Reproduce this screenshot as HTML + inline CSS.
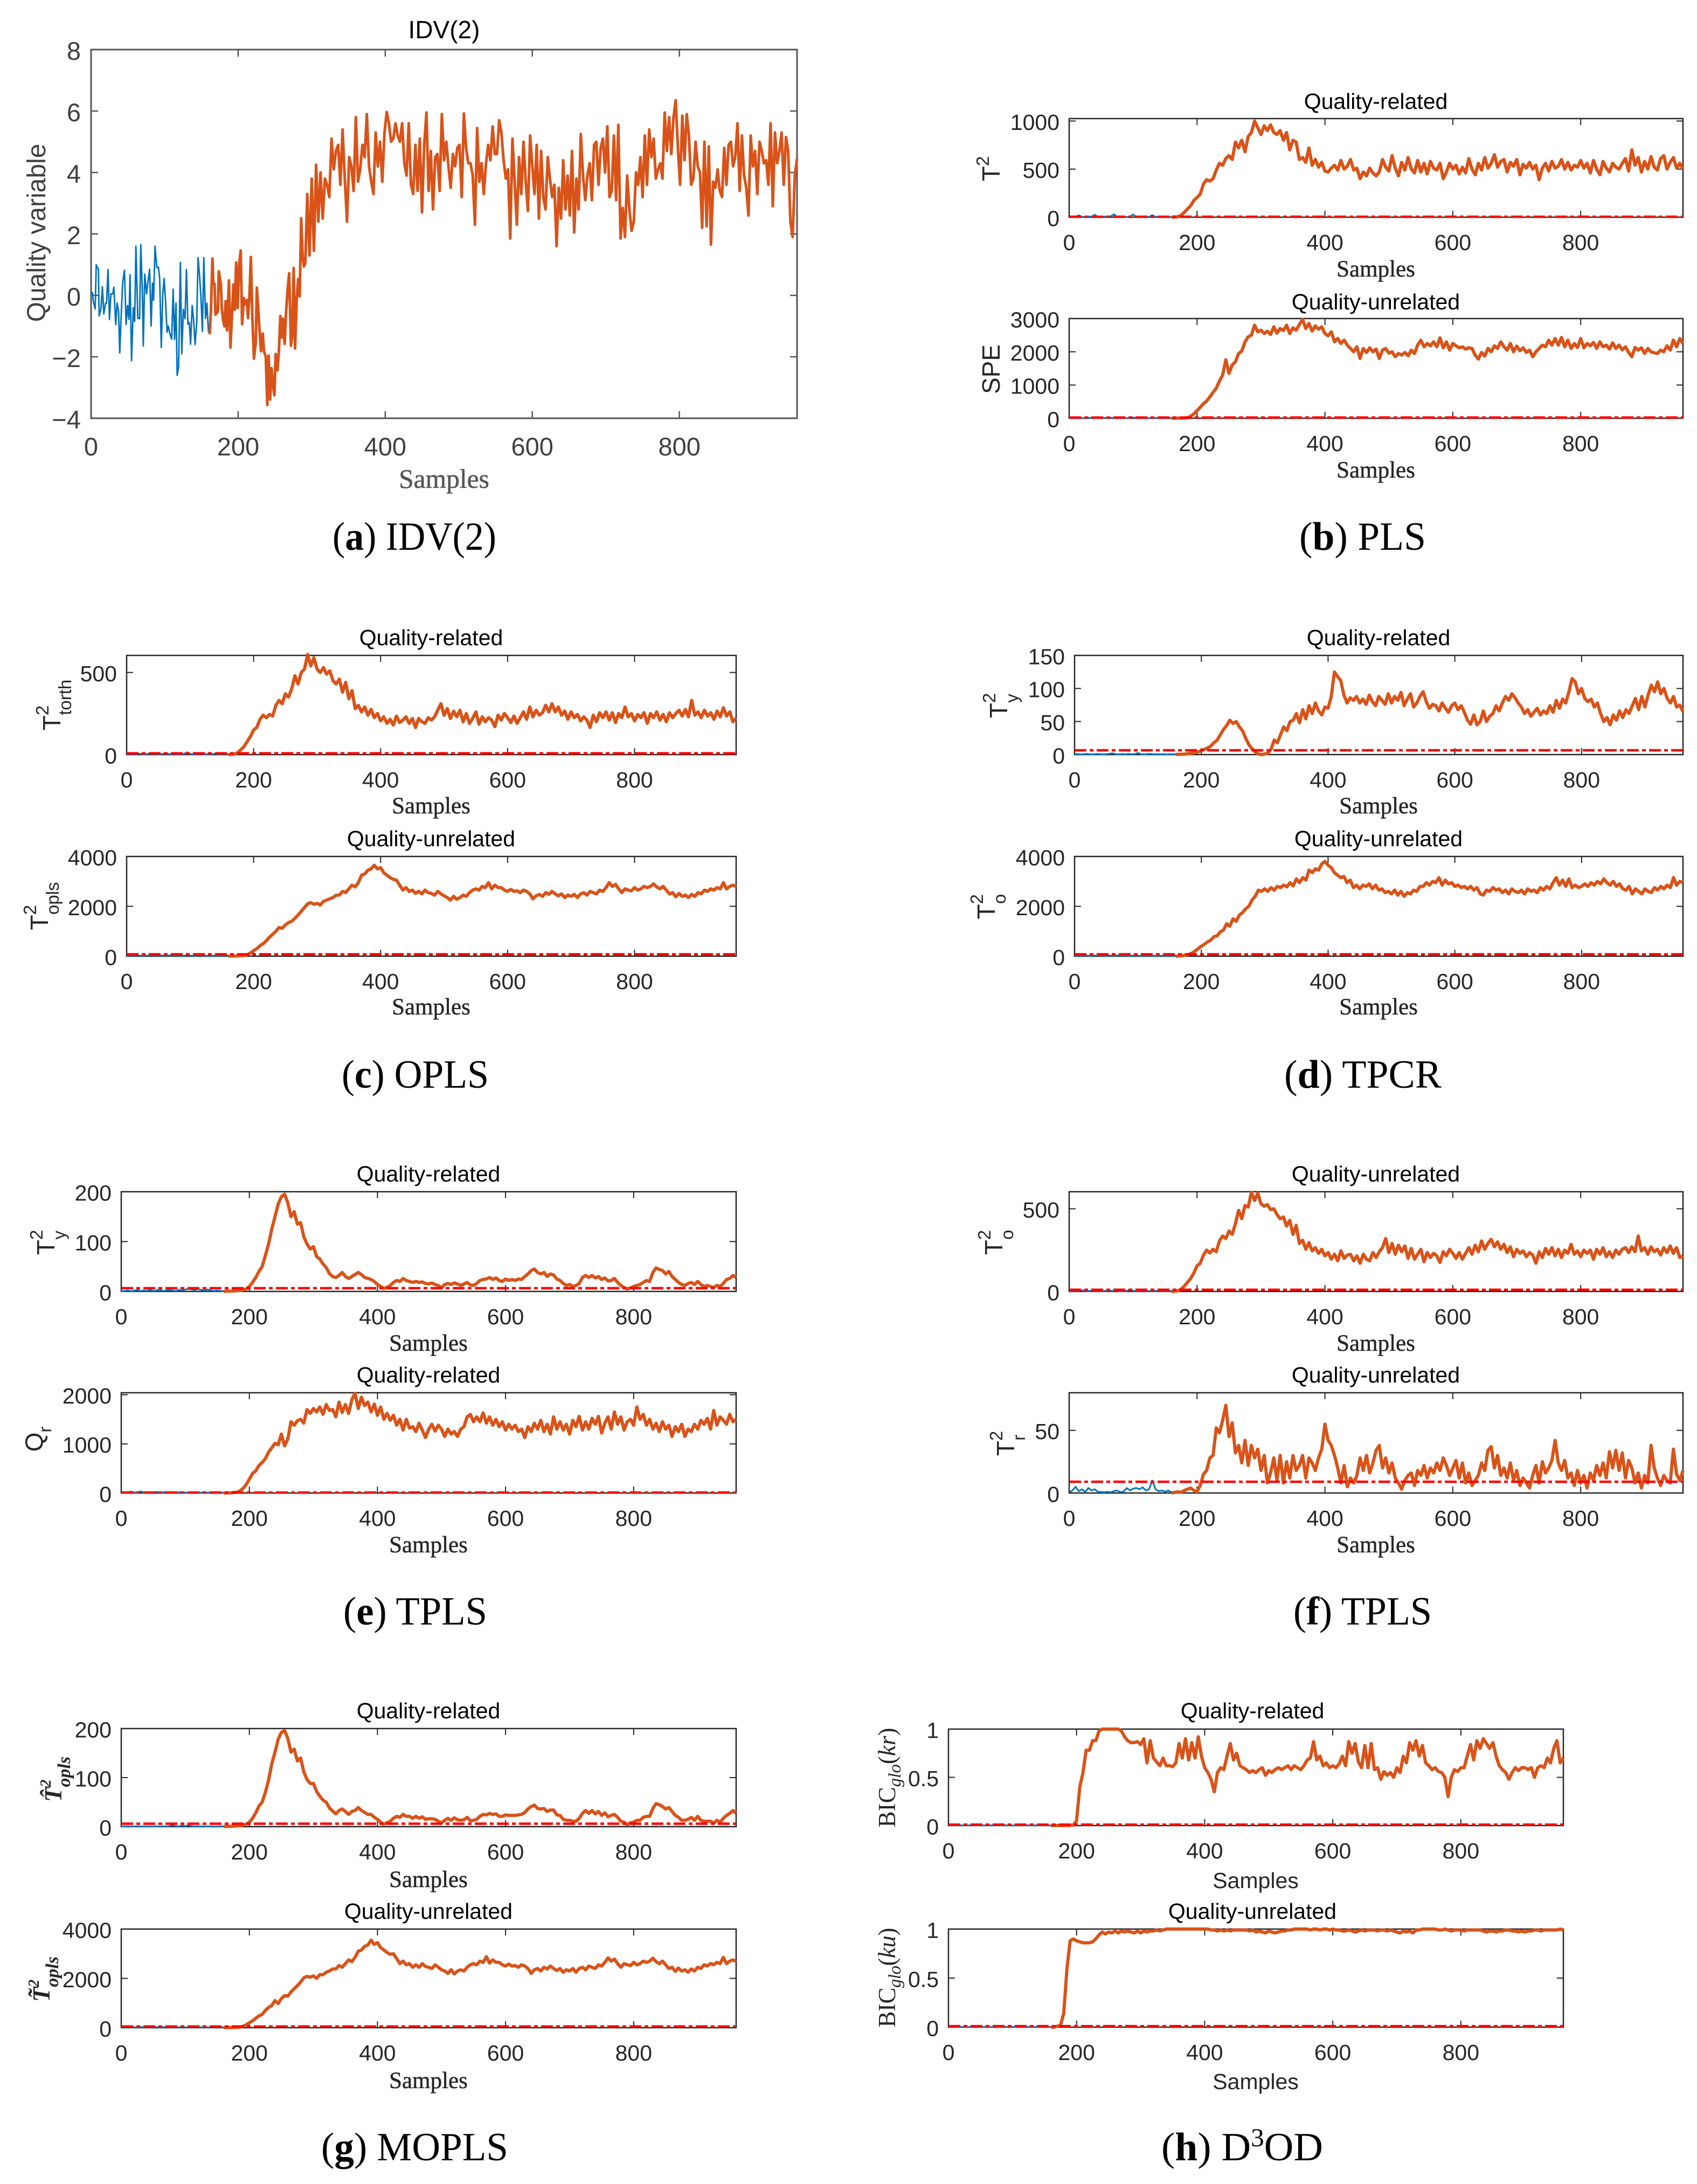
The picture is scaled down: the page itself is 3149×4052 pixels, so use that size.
<!DOCTYPE html>
<html lang="en">
<head>
<meta charset="utf-8">
<title>IDV(2) fault detection results</title>
<style>
html,body{margin:0;padding:0;background:#fff}
svg{display:block}
text{font-family:"Liberation Sans",sans-serif}
.title{font-size:41px;fill:#000;text-anchor:middle}
.samples{font-family:"Liberation Serif",serif;font-size:43px;fill:#262626;text-anchor:middle;stroke:#262626;stroke-width:.5px}
.samples-sans{font-size:41px;fill:#262626;text-anchor:middle}
.ylab{font-size:46px;fill:#262626;text-anchor:middle}
.ysub{font-size:33px}
.ymath{font-family:"Liberation Serif",serif;font-size:45px;fill:#262626;text-anchor:middle}
.cap{font-family:"Liberation Serif",serif;font-size:74px;fill:#000}
.cap tspan.b{font-weight:bold}
</style>
</head>
<body>
<svg id="figure" xmlns="http://www.w3.org/2000/svg" width="3149" height="4052" viewBox="0 0 3149 4052">
<rect width="3149" height="4052" fill="#fff"/>
<g id="plots"></g>

<text class="title" x="824" y="71" style="font-size:46px">IDV(2)</text>
<text class="samples" x="824" y="905" style="font-size:49.5px;fill:#555;stroke:#555">Samples</text>
<text class="ylab" transform="translate(84,432) rotate(-90)" style="font-size:48px;fill:#404040">Quality variable</text>

<text class="title" x="2553" y="202">Quality-related</text>
<text class="title" x="2553" y="574">Quality-unrelated</text>
<text class="samples" x="2553" y="513">Samples</text>
<text class="samples" x="2553" y="886">Samples</text>
<text class="ylab" transform="translate(1855,313) rotate(-90)">T<tspan class="ysub" dy="-20">2</tspan></text>
<text class="ylab" transform="translate(1855,685) rotate(-90)">SPE</text>

<text class="title" x="800" y="1197">Quality-related</text>
<text class="title" x="800" y="1570">Quality-unrelated</text>
<text class="samples" x="800" y="1509">Samples</text>
<text class="samples" x="800" y="1882">Samples</text>
<text class="ylab" transform="translate(112,1308) rotate(-90)">T<tspan class="ysub" dy="-22">2</tspan><tspan class="ysub" dx="-18" dy="42">torth</tspan></text>
<text class="ylab" transform="translate(89,1681) rotate(-90)">T<tspan class="ysub" dy="-22">2</tspan><tspan class="ysub" dx="-18" dy="42">opls</tspan></text>

<text class="title" x="2558" y="1197">Quality-related</text>
<text class="title" x="2558" y="1570">Quality-unrelated</text>
<text class="samples" x="2558" y="1509">Samples</text>
<text class="samples" x="2558" y="1882">Samples</text>
<text class="ylab" transform="translate(1869,1309) rotate(-90)">T<tspan class="ysub" dy="-22">2</tspan><tspan class="ysub" dx="-18" dy="42">y</tspan></text>
<text class="ylab" transform="translate(1846,1682) rotate(-90)">T<tspan class="ysub" dy="-22">2</tspan><tspan class="ysub" dx="-18" dy="42">o</tspan></text>

<text class="title" x="795" y="2192">Quality-related</text>
<text class="title" x="795" y="2565">Quality-related</text>
<text class="samples" x="795" y="2506">Samples</text>
<text class="samples" x="795" y="2880">Samples</text>
<text class="ylab" transform="translate(101,2305) rotate(-90)">T<tspan class="ysub" dy="-22">2</tspan><tspan class="ysub" dx="-18" dy="42">y</tspan></text>
<text class="ylab" transform="translate(79,2670) rotate(-90)">Q<tspan class="ysub" dy="16">r</tspan></text>

<text class="title" x="2553" y="2192">Quality-unrelated</text>
<text class="title" x="2553" y="2565">Quality-unrelated</text>
<text class="samples" x="2553" y="2506">Samples</text>
<text class="samples" x="2553" y="2880">Samples</text>
<text class="ylab" transform="translate(1860,2305) rotate(-90)">T<tspan class="ysub" dy="-22">2</tspan><tspan class="ysub" dx="-18" dy="42">o</tspan></text>
<text class="ylab" transform="translate(1882,2678) rotate(-90)">T<tspan class="ysub" dy="-22">2</tspan><tspan class="ysub" dx="-18" dy="42">r</tspan></text>

<text class="title" x="795" y="3188">Quality-related</text>
<text class="title" x="795" y="3560">Quality-unrelated</text>
<text class="samples" x="795" y="3501">Samples</text>
<text class="samples" x="795" y="3874">Samples</text>
<text class="ymath" transform="translate(114,3301) rotate(-90)" style="font-style:italic;font-weight:bold">T&#770;<tspan class="ysub" dy="-20" style="font-size:28px">2</tspan><tspan class="ysub" dx="-14" dy="36" style="font-size:34px">opls</tspan></text>
<text class="ymath" transform="translate(92,3672) rotate(-90)" style="font-style:italic;font-weight:bold">T&#771;<tspan class="ysub" dy="-20" style="font-size:28px">2</tspan><tspan class="ysub" dx="-14" dy="36" style="font-size:34px">opls</tspan></text>

<text class="title" x="2324" y="3188">Quality-related</text>
<text class="title" x="2324" y="3560">Quality-unrelated</text>
<text class="samples-sans" x="2330" y="3503">Samples</text>
<text class="samples-sans" x="2330" y="3876">Samples</text>
<text class="ymath" transform="translate(1661,3298) rotate(-90)" textLength="185">BIC<tspan class="ysub" dy="10" style="font-style:italic">glo</tspan><tspan dy="-10">(</tspan><tspan style="font-style:italic">kr</tspan>)</text>
<text class="ymath" transform="translate(1661,3669) rotate(-90)" textLength="185">BIC<tspan class="ysub" dy="10" style="font-style:italic">glo</tspan><tspan dy="-10">(</tspan><tspan style="font-style:italic">ku</tspan>)</text>

<text class="cap" x="617" y="1020" textLength="304" lengthAdjust="spacingAndGlyphs">(<tspan class="b">a</tspan>) IDV(2)</text>
<text class="cap" x="2411" y="1020" textLength="235" lengthAdjust="spacingAndGlyphs">(<tspan class="b">b</tspan>) PLS</text>
<text class="cap" x="634" y="2018" textLength="273" lengthAdjust="spacingAndGlyphs">(<tspan class="b">c</tspan>) OPLS</text>
<text class="cap" x="2383" y="2018" textLength="292" lengthAdjust="spacingAndGlyphs">(<tspan class="b">d</tspan>) TPCR</text>
<text class="cap" x="637" y="3014" textLength="267" lengthAdjust="spacingAndGlyphs">(<tspan class="b">e</tspan>) TPLS</text>
<text class="cap" x="2400" y="3014" textLength="257" lengthAdjust="spacingAndGlyphs">(<tspan class="b">f</tspan>) TPLS</text>
<text class="cap" x="596" y="4008" textLength="347" lengthAdjust="spacingAndGlyphs">(<tspan class="b">g</tspan>) MOPLS</text>
<text class="cap" x="2155" y="4008" textLength="300" lengthAdjust="spacingAndGlyphs">(<tspan class="b">h</tspan>) D<tspan dy="-26" style="font-size:48px">3</tspan><tspan dy="26">OD</tspan></text>
</svg>

<script>
/* ---------- shared axis data ---------- */
const xTickValues = [0, 200, 400, 600, 800];
const xMaxSample = 960;
const faultStart = 160;

/* ---------- panel (a) ---------- */
const aYTicks = [-4, -2, 0, 2, 4, 6, 8];
const aBlueSamples = [0,1,2,3,5.6,7,8.5,10,11,13.4,15.4,17.3,19.8,21,23,25,27,29.5,31,33.5,35.4,37.4,39,41,43,45.4,47.6,49.6,51.5,53,55,57.4,59.3,61,63.5,66,67.6,69.6,71,73,75.5,77.4,79.6,81.6,83.5,85,87,89.4,91.6,93.3,95.5,97.5,99.4,101.3,103.3,105,107,109.6,111.6,113.5,115.5,117,119,121.4,123.3,125.5,127.7,129.7,131.6,133.6,135.3,137.5,139.4,141.4,143.6,145.5,147.5,149.5,151.4,153.3,155.6,157.5,159.5];
const aBlueValues = [0,.09,.08,-.19,-.44,1,.9,.87,-.67,-.45,.28,-.6,-.25,-.25,.84,-.79,.05,.05,.27,-.95,-.25,-.5,-1.87,-.63,.43,.82,-.95,-.33,-.78,.67,-2.13,-.4,-.85,1.6,-.75,-.76,1.65,.23,-1.65,.69,.05,.44,.85,-1,.4,-.16,1.6,.9,.92,.54,-1.7,.03,.55,-.19,-1.2,-1,-1.23,-1.43,.2,-1.43,-.25,-2.6,-2.34,1.07,-1.9,-.46,-.76,.84,-.94,-.88,-1.59,-.33,-.79,-1.6,-.9,1.23,.66,-.12,-1.17,1.23,-.75,-.25,-1.17];
const aOrangeHeadSamples = [160,161.4,163,165,166.3,167.8,169.2,172.4,173.6,176.5,177.8,179.5,181.4,183,184.9,187.5,189.5,191.7,193.6,195.4,197.3,199.3,201,203.4,205.4,207.8,209.8,212,213.4,215.4,217.3,219.3,221.5,224,225.4,227.3,229,231,233.4,235.2,237.6,239.6,241.5,243.5,245.4,247.4,249.3,251,253.5,255.4,257.4,259,261,263.2,265.2,267.2,269.4,271.8,273.7,275.5,277.4,279.6,281.6,283.7,285.7,287.7,289.4,291.3];
const aOrangeHeadValues = [-1.17,-1.23,-.5,1.2,.38,.38,-.63,-.53,.78,.38,-.44,-.79,-1.01,-.19,-1.14,.49,-1.7,-.6,.35,-.47,1.07,-.41,.91,1.46,-.94,-.09,-.29,-.15,-.74,0,1.25,-.74,-2.06,-1.52,.25,-.44,-1.11,-1.82,-1.24,-1.82,-2,-3.57,-1.96,-3.39,-2.37,-2.95,-3.25,-1.91,-2.44,-1.81,-.67,-1.37,-.76,-1.58,-.53,.16,.72,-1.64,-1.29,.89,-1.73,-.15,.53,-.03,2.51,1.26,.94,1.05];
const aOrangeTailStart = 294;
const aOrangeTailStep = 3;
const aOrangeTailValues = [
3.3,1.3,3.8,1.45,4.25,2.4,4,2.5,3.8,3.6,
3.2,5.1,4.1,4.7,4.9,3.6,5.4,3.8,2.4,4.5,
4.2,3.4,5.8,3.7,4.1,4.9,4.5,5.9,4.2,3.7,
3.3,5.3,4.2,5,3.7,5.3,5.97,5.6,5,5.1,
5.6,5.2,5,5.6,4.3,3.9,5.6,3.6,3.3,4.9,
3.4,5.1,2.7,4.9,5.95,3.4,4.7,2.8,4.5,4.6,
3.4,5.9,4.4,5,4.2,3.5,4.6,4.2,4.8,4.9,
3.2,5.92,4.8,4.3,4.3,3.9,2.3,5.45,3.7,4.3,
3.3,4.3,4.9,4.4,5.5,4.6,4.6,5.7,5.3,4.4,
3.8,4.1,1.85,5.1,3.7,2.3,4.5,3.3,5,3.7,
2.75,5.2,4.2,3.3,4.9,2.5,4.7,3.2,2.8,4.5,
3.8,3.2,3.6,1.6,3.5,2.5,4.4,2.8,3.9,2.6,
4.7,2.05,3.8,2.8,5.25,3.9,3.1,3.9,4.3,3.1,
4.9,5,3.6,4.8,5.1,4,5.5,3.2,3.4,5.2,
3.1,5.55,1.85,2.85,1.9,3.9,2.8,2.1,2.4,4,
3.6,4.5,3.2,5.2,3.6,5.4,4.5,5.1,3.8,4.1,
4.3,3.8,5.95,4.7,5.8,4.6,5.8,6.35,4.8,3.6,
5.85,4.4,5.9,5.2,3.6,3.8,5,4.2,4,2.2,
5,2.25,4.85,1.65,3.7,3.5,4.1,3.4,3.2,4.8,
3.6,4.9,5,4.2,4.5,5.6,3.4,5.2,3.9,3.5,
2.6,5.2,4.2,4.7,3.3,5,4.7,4.3,4.4,3.6,
5.6,2.9,5.3,4.3,4.7,5.3,3.6,5.15,4.7,2.4,
1.9,3.9,4.45];

/* ---------- panel (b) ---------- */
const bTopYTicks = [0, 500, 1000];
const bTopBlue = [2,6,3,20,4,3,8,5,25,3,2,6,4,9,30,3,5,4,2,7,28,4,3,6,5,2,22,4,3,7,3,2,3];
const bTopOrange = [0,2,5,20,50,85,120,175,205,240,345,390,375,400,490,560,540,610,640,600,780,720,800,680,840,880,1000,930,860,950,900,960,880,860,900,800,880,700,800,780,600,620,570,720,540,600,520,570,480,470,510,540,490,590,500,530,600,490,510,400,470,430,510,460,430,470,600,520,480,640,510,430,570,490,620,500,460,590,470,560,450,580,510,490,560,400,470,560,500,540,450,520,460,610,500,440,560,490,620,510,560,650,520,580,600,470,570,530,600,440,550,510,570,500,540,390,510,560,480,580,510,530,600,500,570,490,540,520,590,510,560,460,590,500,440,580,510,470,560,520,500,560,610,480,700,540,620,470,580,500,630,520,490,610,640,500,570,620,510,560,500];
const bTopThreshold = [5];
const bBottomYTicks = [0, 1000, 2000, 3000];
const bBottomBlue = [6,12,4,18,5,3,14,6,9,4,3,12,5,16,6,4,10,3,5,14,26,4,6,3,12,4,5,3,9,4,3,6,4];
const bBottomOrange = [0,2,3,5,8,15,60,130,230,330,440,520,640,780,900,1120,1300,1760,1350,1600,1700,1950,2020,2300,2450,2500,2800,2600,2650,2550,2620,2520,2750,2560,2700,2640,2800,2550,2720,2650,2820,2970,2700,2850,2620,2780,2680,2750,2550,2480,2600,2300,2400,2250,2350,2200,2100,2000,2150,1800,2100,1980,2120,2000,2080,1800,2050,2100,1960,2000,1850,1950,1900,1980,1880,2050,1950,2200,2350,2150,2250,2180,2300,2150,2420,2120,2300,2050,2250,2180,2120,2150,2080,2120,2100,1900,1780,1980,1870,2100,2000,2180,2100,2300,2150,2050,2250,2000,2170,2030,2120,1980,2050,1850,2000,2100,2200,2150,2350,2200,2400,2200,2430,2150,2350,2100,2250,2130,2400,2120,2250,2180,2280,2100,2300,2150,2200,2080,2270,2100,2200,2060,2150,1980,1850,2130,2050,2120,1950,2100,2000,1970,1950,2050,2000,2180,2050,2350,2150,2400,2250];
const bBottomThreshold = [22];

/* ---------- panel (c) ---------- */
const cTopYTicks = [0, 500];
const cTopBlue = [3,5,2,4,6,3,2,5,3,4,2,3,6,4,3,5,2,4,3,14,4,2,3,5,3,2,4,3,6,2,3,4,2];
const cTopOrange = [0,1,3,12,30,50,80,110,150,165,215,240,225,245,235,300,330,310,370,350,400,480,430,500,520,610,540,590,520,500,530,490,510,450,430,460,380,440,340,390,280,300,260,290,240,275,225,250,205,230,190,215,180,235,195,210,230,190,220,165,220,200,190,225,210,230,270,310,240,280,220,265,230,270,200,250,190,220,260,185,230,200,225,210,170,240,210,250,225,195,235,190,225,260,215,290,230,270,240,255,300,260,310,260,290,240,265,215,260,225,245,205,230,210,165,240,200,255,225,260,210,255,195,250,225,290,230,250,205,245,225,255,190,250,225,260,210,245,200,255,225,250,270,235,275,230,330,240,260,225,270,235,255,215,265,230,285,235,260,200,220];
const cTopThreshold = [8];
const cBottomYTicks = [0, 2000, 4000];
const cBottomBlue = [20,35,18,42,25,16,30,22,40,18,24,30,15,28,35,20,26,18,22,32,24,16,28,20,34,18,22,16,26,20,18,24,20];
const cBottomOrange = [
0,3,6,10,15,25,60,130,220,300,
420,500,620,760,880,1000,1150,1120,1250,1350,
1400,1520,1650,1800,1950,2100,2150,2080,2120,2050,
2200,2250,2300,2350,2450,2450,2600,2550,2700,2850,
2780,2950,3250,3300,3450,3500,3650,3500,3550,3350,
3250,3150,3080,3050,2850,2650,2750,2600,2650,2520,
2600,2500,2650,2550,2520,2450,2600,2500,2420,2350,
2250,2400,2280,2350,2450,2400,2550,2650,2700,2650,
2800,2750,2950,2700,2850,2750,2750,2650,2600,2680,
2600,2620,2550,2650,2600,2500,2300,2420,2480,2400,
2550,2480,2600,2500,2420,2500,2350,2450,2400,2480,
2350,2500,2550,2450,2600,2550,2500,2650,2600,2750,
2950,2800,2880,2700,2550,2700,2650,2620,2750,2650,
2700,2800,2750,2800,2900,2780,2700,2800,2650,2500,
2550,2380,2520,2400,2450,2350,2480,2400,2550,2500,
2650,2600,2700,2650,2750,2700,2950,2700,2800,2850,
2800];
const cBottomThreshold = [75];

/* ---------- panel (d) ---------- */
const dTopYTicks = [0, 50, 100, 150];
const dTopBlue = [.5,.8,.3,.6,1,.4,.5,.9,.6,.4,.7,1.2,2,.6,.5,.8,.4,1,.5,.7,2.5,.6,.4,.8,1,.5,.6,.4,.7,.3,.6,.5,.4];
const dTopOrange = [
0,.5,.5,1,1.5,2,3,4,6,8,
10,13,18,22,30,38,44,52,47,50,
42,36,25,15,9,4,1,0,1,2,
8,22,18,30,42,36,50,52,62,48,
68,54,74,62,78,66,60,72,70,88,
125,118,112,90,78,86,82,88,78,84,
76,90,80,74,88,82,76,92,78,88,
82,94,74,84,92,72,78,88,95,80,
70,76,74,66,78,70,64,74,78,68,
74,64,52,46,60,45,50,66,50,58,
62,74,66,78,88,82,92,86,78,72,
62,68,58,64,70,60,66,62,74,64,
82,70,84,78,95,115,110,92,100,85,
80,84,72,78,62,50,56,45,60,52,
66,56,68,62,74,85,68,88,72,90,
105,95,110,92,100,85,78,88,72,75,
65];
const dTopThreshold = [6.5];
const dBottomYTicks = [0, 2000, 4000];
const dBottomBlue = [20,30,16,40,24,18,28,22,36,18,20,30,16,26,32,20,24,18,22,30,22,16,26,20,32,18,20,16,24,20,18,22,20];
const dBottomOrange = [
0,5,15,40,70,120,200,300,400,480,
580,640,780,820,980,1050,1300,1200,1500,1400,
1650,1750,1900,2000,2250,2400,2650,2600,2700,2600,
2750,2650,2800,2750,2850,2780,2950,2820,3100,2950,
3150,3050,3450,3350,3500,3450,3700,3800,3650,3550,
3350,3250,3150,3200,2950,3050,2750,2850,2700,2850,
2800,2900,2700,2850,2650,2700,2550,2600,2500,2650,
2450,2600,2400,2550,2500,2650,2600,2800,2800,2950,
2850,3000,2950,3150,2850,3050,2900,2950,2800,2850,
2750,2800,2700,2800,2650,2750,2500,2450,2650,2600,
2750,2650,2700,2550,2650,2500,2700,2600,2550,2650,
2500,2700,2600,2650,2550,2750,2650,2800,2700,2950,
3150,2850,3050,2800,3100,2750,2850,2750,2800,2900,
2800,2950,2850,3000,2900,3100,2950,2850,3000,2800,
2900,2700,2650,2800,2500,2700,2600,2500,2700,2600,
2550,2750,2650,2800,2700,2850,2750,3150,2850,3000,
2950];
const dBottomThreshold = [75];

/* ---------- panel (e) ---------- */
const eTopYTicks = [0, 100, 200];
const eTopBlue = [.5,1,2,.5,1.5,3,1,2,1,3,1,2,4,1,2,3,2,1,3,2,4,5,4,3,5,3,2,4,2,1,2,1,.5];
const eTopOrange = [
0,.5,.5,1,1.5,2,3,5,10,18,
28,40,50,72,95,125,150,175,190,195,
178,150,160,135,138,110,95,85,90,70,
65,55,48,36,30,28,32,38,30,26,
30,34,38,34,28,26,24,20,14,10,
6,8,12,18,22,20,26,22,20,18,
20,18,19,16,15,17,14,12,7,14,
16,14,17,15,12,15,18,13,12,16,
22,24,25,28,24,27,22,20,25,22,
24,22,25,24,30,35,42,45,38,35,
38,30,35,33,25,22,16,12,14,10,
12,16,28,32,28,32,27,30,24,27,
21,22,26,18,12,8,5,7,10,12,
14,18,22,20,38,47,44,42,35,40,
30,24,18,14,12,16,18,14,20,14,
10,12,10,8,12,10,16,24,26,32,
28];
const eTopThreshold = [6.5];
const eBottomYTicks = [0, 1000, 2000];
const eBottomBlue = [8,20,5,30,12,6,34,8,16,5,7,25,6,12,22,5,8,6,14,20,10,6,14,22,6,8,12,5,14,6,9,7,5];
const eBottomOrange = [
0,1,3,8,15,40,90,170,280,400,
450,560,620,700,830,920,1010,980,1200,960,
1100,1450,1380,1470,1500,1420,1700,1620,1720,1650,
1750,1600,1800,1680,1700,1550,1850,1640,1800,1620,
1900,2030,1720,1950,1780,1850,1650,1810,1580,1750,
1500,1620,1480,1580,1380,1500,1280,1500,1320,1350,
1250,1420,1280,1130,1300,1400,1260,1380,1300,1150,
1300,1200,1250,1150,1300,1350,1550,1600,1450,1550,
1450,1630,1420,1550,1380,1500,1350,1450,1280,1400,
1300,1380,1250,1300,1130,1350,1250,1420,1300,1480,
1250,1400,1200,1550,1300,1450,1280,1400,1200,1480,
1350,1560,1280,1450,1300,1520,1400,1560,1220,1420,
1550,1300,1650,1400,1550,1280,1450,1500,1380,1750,
1500,1600,1380,1500,1300,1420,1250,1450,1300,1380,
1150,1350,1250,1400,1150,1300,1250,1400,1300,1480,
1400,1520,1300,1680,1380,1550,1480,1400,1600,1450,
1500];
const eBottomThreshold = [10];

/* ---------- panel (f) ---------- */
const fTopYTicks = [0, 500];
const fTopBlue = [2,4,3,5,7,3,2,5,3,4,2,3,5,4,3,5,2,4,3,12,4,2,3,5,3,2,4,3,5,2,3,4,2];
const fTopOrange = [0,1,4,14,32,55,78,112,155,170,220,250,232,255,240,305,335,320,365,345,410,490,440,520,510,600,550,595,530,515,525,495,500,465,440,450,395,430,345,400,290,310,255,295,245,265,230,255,215,235,195,225,185,245,200,220,225,185,215,170,225,195,185,235,205,240,265,320,235,290,225,280,240,275,200,260,195,225,255,180,235,205,230,215,175,240,215,255,230,200,235,195,230,265,225,280,240,305,255,290,315,270,300,255,285,235,270,210,255,230,245,210,235,220,170,240,205,260,225,265,215,255,205,250,230,285,225,245,210,250,230,250,195,255,225,265,210,240,205,250,225,255,265,235,270,240,335,245,265,225,270,240,255,220,265,235,275,230,265,205,215];
const fTopThreshold = [10];
const fBottomYTicks = [0, 50];
const fBottomBlue = [.5,2,5,1.5,3,.8,4,2,3,1,.8,.6,1,.5,1.5,2,.8,1,4,2,3.5,4,3,4.5,2,3,10,3,1.5,2,1,2,.5];
const fBottomOrange = [
0,.5,1,.5,2,3,4,2,1,6,
15,18,28,30,52,48,58,70,45,56,
32,38,24,42,22,38,28,35,18,30,
8,16,28,10,30,8,25,12,30,18,
22,30,12,28,24,18,28,35,55,42,
38,30,20,8,22,5,12,8,14,28,
18,30,16,24,34,38,20,28,16,24,
12,8,3,10,14,16,6,18,14,22,
12,20,16,24,18,28,22,14,20,26,
12,24,8,16,6,10,14,24,18,34,
37,20,30,14,20,12,24,10,18,6,
12,8,4,14,22,8,25,16,20,26,
42,24,18,26,12,16,6,18,8,14,
4,16,10,22,14,24,12,33,20,34,
18,32,12,26,20,8,16,4,14,8,
38,20,12,6,14,10,8,35,15,10,
18];
const fBottomThreshold = [9];

/* ---------- panel (g) ---------- */
const gTopYTicks = [0, 100, 200];
const gTopBlue = [.5,.5,.8,.5,.6,.8,.5,.7,.5,.6,.5,.7,.6,.8,.5,1,3,1,.6,2,1,3,1,.6,.8,.5,.7,.5,.6,.5,.5,.6,.5];
const gTopOrange = [
0,.5,.5,1,1.5,2,3,5,9,17,
28,42,50,70,95,128,152,178,192,196,
180,152,158,134,140,112,96,88,88,72,
62,54,50,38,32,26,33,36,31,25,
31,33,39,33,29,25,25,19,15,9,
5,8,11,17,21,19,25,21,21,17,
21,17,20,15,16,16,15,11,8,13,
17,13,18,14,13,14,19,12,13,15,
21,25,24,27,25,26,21,21,24,23,
23,23,24,25,29,36,41,44,37,36,
37,31,34,34,24,23,15,13,13,11,
11,17,27,33,27,33,26,31,23,28,
20,23,25,19,11,9,4,8,9,13,
13,19,21,21,37,47,45,41,36,39,
31,23,19,13,13,15,19,13,21,13,
11,11,11,7,13,9,17,23,27,33,
27];
const gTopThreshold = [6];
const gBottomYTicks = [0, 2000, 4000];
const gBottomBlue = [20,28,16,36,22,16,26,20,30,16,20,26,14,24,28,18,22,16,20,28,20,14,24,18,28,16,20,14,22,18,16,20,18];
const gBottomOrange = [
0,3,5,8,12,20,55,120,200,280,
380,480,540,700,820,900,1100,980,1180,1300,
1280,1450,1580,1700,1850,2020,2080,2050,2100,2000,
2150,2150,2250,2300,2380,2380,2520,2450,2600,2750,
2680,2850,3100,3150,3300,3350,3550,3380,3450,3250,
3150,3050,2980,3000,2800,2600,2700,2550,2600,2450,
2550,2450,2600,2480,2450,2400,2550,2450,2350,2300,
2200,2350,2180,2300,2350,2300,2450,2550,2600,2550,
2700,2650,2880,2620,2750,2650,2650,2550,2500,2580,
2500,2520,2450,2550,2500,2400,2200,2350,2400,2300,
2450,2380,2500,2400,2320,2400,2250,2350,2300,2400,
2250,2400,2450,2350,2500,2450,2400,2550,2500,2650,
2830,2700,2780,2600,2450,2600,2550,2520,2650,2550,
2600,2700,2650,2700,2820,2680,2600,2700,2550,2400,
2450,2280,2420,2300,2350,2250,2380,2300,2450,2400,
2550,2500,2600,2550,2650,2600,2850,2600,2700,2750,
2700];
const gBottomThreshold = [50];

/* ---------- panel (h) ---------- */
const hTopYTicks = [0, 0.5, 1];
const hTopBlue = [.002,.003,.002,.004,.002,.003,.002,.004,.003,.002,.003,.002,.004,.003,.002,.003,.002,.004,.002,.003,.002,.003,.002,.004,.002,.003,.002,.003,.002,.002,.002,.002,.002];
const hTopOrange = [
0,0,0,0,0,0,.002,.005,.05,.4,
.55,.78,.78,.88,.88,.98,1,1,1,1,
1,1,.98,.92,.88,.86,.86,.87,.84,.9,
.65,.88,.7,.66,.62,.7,.62,.62,.61,.65,
.85,.7,.9,.68,.86,.7,.92,.72,.6,.55,
.48,.35,.55,.6,.58,.72,.85,.68,.75,.62,
.6,.58,.55,.57,.55,.58,.6,.52,.57,.55,
.58,.6,.58,.6,.62,.58,.62,.6,.58,.62,
.68,.7,.87,.68,.72,.62,.65,.6,.62,.6,
.64,.72,.62,.87,.75,.85,.66,.6,.83,.6,
.85,.58,.6,.48,.56,.52,.55,.5,.6,.55,
.72,.65,.86,.78,.88,.72,.83,.65,.62,.58,
.6,.56,.55,.5,.3,.5,.58,.56,.6,.6,
.72,.84,.68,.88,.8,.9,.85,.8,.86,.72,
.62,.58,.55,.48,.55,.6,.57,.6,.6,.58,
.6,.5,.6,.62,.6,.7,.65,.8,.88,.65,
.7];
const hTopThreshold = [.01];
const hBottomYTicks = [0, 0.5, 1];
const hBottomBlue = [.002,.003,.002,.003,.002,.003,.002,.002,.003,.002,.003,.002,.003,.002,.002,.003,.002,.003,.002,.002,.003,.002,.003,.002,.002,.003,.002,.003,.002,.002,.002,.002,.002];
const hBottomOrange = [
0,0,.01,.02,.14,.6,.88,.9,.88,.87,
.86,.86,.86,.87,.9,.94,.97,.95,.97,.96,
.98,.96,.98,.97,.98,.97,.96,.98,.96,.98,
.97,.98,.98,.99,.98,.99,1,1,1,1,
1,1,1,1,1,1,1,1,1,1,
.99,.99,.98,.99,.98,.99,.98,.99,.99,.99,
.99,.99,.98,.99,.97,.98,.97,.96,.98,.97,
.96,.97,.98,.98,.99,.99,1,1,1,1,
1,.99,1,1,.99,1,1,.99,1,.99,
.99,.98,.98,.99,.98,.97,.98,.99,.98,.99,
.99,.99,.98,.99,.99,.98,.99,.98,.97,.96,
.98,.97,.98,.96,.99,.99,1,1,1,1,
1,.99,.99,1,.99,.98,.99,.99,.99,.98,
.99,.99,.99,.99,.99,.98,.97,.98,.98,.97,
.98,.98,.99,.99,.98,.98,.97,.98,.97,.98,
.98,.99,.99,.98,.99,.99,.99,.99,.99,1,
.99];
const hBottomThreshold = [.01];

/* ---------- panel definitions: box geometry and references to the data arrays ---------- */
const panelList = [
 {id:'b-top',x0:1984,x1:3123,y0:220,y1:403,yMax:1025,ticks:bTopYTicks,blue:bTopBlue,orange:bTopOrange,limit:bTopThreshold},
 {id:'b-bottom',x0:1984,x1:3123,y0:591,y1:776,yMax:3000,ticks:bBottomYTicks,blue:bBottomBlue,orange:bBottomOrange,limit:bBottomThreshold},
 {id:'c-top',x0:235,x1:1366,y0:1216,y1:1400,yMax:604,ticks:cTopYTicks,blue:cTopBlue,orange:cTopOrange,limit:cTopThreshold},
 {id:'c-bottom',x0:235,x1:1366,y0:1589,y1:1774,yMax:4000,ticks:cBottomYTicks,blue:cBottomBlue,orange:cBottomOrange,limit:cBottomThreshold},
 {id:'d-top',x0:1994,x1:3123,y0:1216,y1:1400,yMax:150,ticks:dTopYTicks,blue:dTopBlue,orange:dTopOrange,limit:dTopThreshold},
 {id:'d-bottom',x0:1994,x1:3123,y0:1589,y1:1774,yMax:4000,ticks:dBottomYTicks,blue:dBottomBlue,orange:dBottomOrange,limit:dBottomThreshold},
 {id:'e-top',x0:225,x1:1366,y0:2211,y1:2396,yMax:200,ticks:eTopYTicks,blue:eTopBlue,orange:eTopOrange,limit:eTopThreshold},
 {id:'e-bottom',x0:225,x1:1366,y0:2584,y1:2770,yMax:2040,ticks:eBottomYTicks,blue:eBottomBlue,orange:eBottomOrange,limit:eBottomThreshold},
 {id:'f-top',x0:1984,x1:3123,y0:2211,y1:2396,yMax:603,ticks:fTopYTicks,blue:fTopBlue,orange:fTopOrange,limit:fTopThreshold},
 {id:'f-bottom',x0:1984,x1:3123,y0:2584,y1:2770,yMax:80,ticks:fBottomYTicks,blue:fBottomBlue,orange:fBottomOrange,limit:fBottomThreshold},
 {id:'g-top',x0:225,x1:1366,y0:3207,y1:3389,yMax:200,ticks:gTopYTicks,blue:gTopBlue,orange:gTopOrange,limit:gTopThreshold},
 {id:'g-bottom',x0:225,x1:1366,y0:3579,y1:3762,yMax:4000,ticks:gBottomYTicks,blue:gBottomBlue,orange:gBottomOrange,limit:gBottomThreshold},
 {id:'h-top',x0:1760,x1:2901,y0:3208,y1:3387,yMax:1,ticks:hTopYTicks,blue:hTopBlue,orange:hTopOrange,limit:hTopThreshold},
 {id:'h-bottom',x0:1760,x1:2901,y0:3579,y1:3761,yMax:1,ticks:hBottomYTicks,blue:hBottomBlue,orange:hBottomOrange,limit:hBottomThreshold}
];

const NS = 'http://www.w3.org/2000/svg';
const plotsRoot = document.getElementById('plots');

function mk(parent, tag, attrs) {
  const el = document.createElementNS(NS, tag);
  for (const k in attrs) el.setAttribute(k, attrs[k]);
  parent.appendChild(el);
  return el;
}

function makeXScale(p) {
  return function (v) { return p.x0 + (v / xMaxSample) * (p.x1 - p.x0); };
}
function makeYScale(p) {
  const lo = p.yMin === undefined ? 0 : p.yMin;
  return function (v) { return p.y1 - ((v - lo) / (p.yMax - lo)) * (p.y1 - p.y0); };
}
function pathFrom(samples, values, sx, sy) {
  let d = '';
  for (let i = 0; i < values.length; i++) {
    d += (i ? 'L' : 'M') + sx(samples[i]).toFixed(1) + ' ' + sy(values[i]).toFixed(1);
  }
  return d;
}
function spreadSamples(values, start, end) {
  const out = [];
  const step = (end - start) / (values.length - 1);
  for (let i = 0; i < values.length; i++) out.push(start + i * step);
  return out;
}

function drawPanel(p) {
  const sx = makeXScale(p);
  const sy = makeYScale(p);
  const light = !!p.light;
  const axisColor = light ? '#555555' : '#262626';
  const labelColor = light ? '#404040' : '#262626';
  const axisWidth = light ? 3 : 2.5;
  const fontSize = light ? 47 : 41;
  const labelGap = light ? 19 : 18;
  const xLabelDrop = light ? 69 : 61;
  const tickLen = light ? 13 : 12;

  const g = mk(plotsRoot, 'g', {});
  
  

  const box = mk(g, 'rect', {x:p.x0, y:p.y0, width:p.x1 - p.x0, height:p.y1 - p.y0, fill:'none', stroke:axisColor, 'stroke-width':axisWidth});
  
  

  xTickValues.forEach(function (v) {
    const x = sx(v);
    const t1 = mk(g, 'path', {d:'M' + x + ' ' + p.y1 + 'v-' + tickLen + 'M' + x + ' ' + p.y0 + 'v' + tickLen, stroke:axisColor, 'stroke-width':axisWidth - .5, fill:'none'});
    
    
    const tx = mk(g, 'text', {x:x, y:p.y1 + xLabelDrop, 'text-anchor':'middle', 'font-size':fontSize, fill:labelColor});
    tx.textContent = String(v);
    
    
  });

  p.ticks.forEach(function (v) {
    const y = sy(v);
    const t2 = mk(g, 'path', {d:'M' + p.x0 + ' ' + y + 'h' + tickLen + 'M' + p.x1 + ' ' + y + 'h-' + tickLen, stroke:axisColor, 'stroke-width':axisWidth - .5, fill:'none'});
    
    
    const ty = mk(g, 'text', {x:p.x0 - labelGap, y:y + fontSize * .4, 'text-anchor':'end', 'font-size':fontSize, fill:labelColor});
    ty.textContent = String(v).replace('-', '\u2212');
    
    
  });

  const blueSamples = p.blueSamples || spreadSamples(p.blue, 0, faultStart);
  const orangeSamples = p.orangeSamples || spreadSamples(p.orange, faultStart, xMaxSample);

  const blue = mk(g, 'path', {d:pathFrom(blueSamples, p.blue, sx, sy), fill:'none', stroke:'#0072BD', 'stroke-width':light ? 2.8 : 3, 'stroke-linejoin':'round'});
  
  

  const orange = mk(g, 'path', {d:pathFrom(orangeSamples, p.orange, sx, sy), fill:'none', stroke:'#D95319', 'stroke-width':light ? 5 : 6, 'stroke-linejoin':'round'});
  
  

  if (p.limit) {
    const y = sy(p.limit[0]);
    const red = mk(g, 'line', {x1:p.x0, x2:p.x1, y1:y, y2:y, stroke:'#FF0000', 'stroke-width':4.5, 'stroke-dasharray':'22 6 7 6'});
    
    
  }
}

const panelA = {
  id:'a', x0:169, x1:1479, y0:92, y1:776, yMin:-4, yMax:8, light:true, ticks:aYTicks,
  blue:aBlueValues, blueSamples:aBlueSamples,
  orange:aOrangeHeadValues.concat(aOrangeTailValues),
  orangeSamples:aOrangeHeadSamples.concat(aOrangeTailValues.map(function (v, i) { return aOrangeTailStart + i * aOrangeTailStep; }))
};
drawPanel(panelA);
panelList.forEach(drawPanel);
</script>
</body>
</html>
